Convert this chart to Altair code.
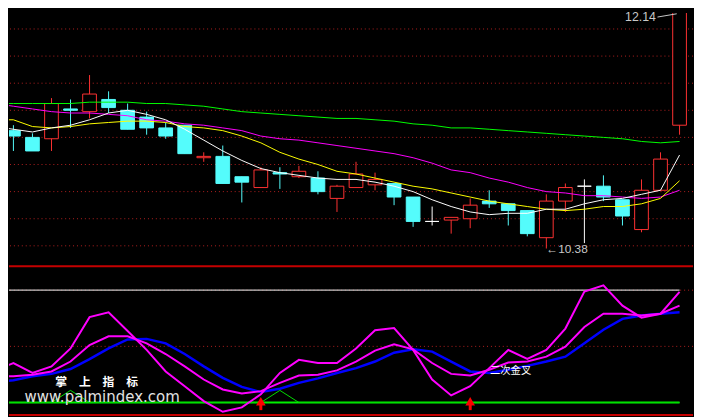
import altair as alt
import pandas as pd

# ---------------- price panel data (daily OHLC) ----------------
days = list(range(36))
opens = [11.25, 11.20, 11.19, 11.41, 11.39, 11.48, 11.40, 11.35, 11.27, 11.29,
         11.05, 11.06, 10.91, 10.83, 10.94, 10.91, 10.90, 10.75, 10.83, 10.85,
         10.86, 10.76, 10.58, 10.59, 10.60, 10.73, 10.71, 10.66, 10.46, 10.73,
         10.84, 10.84, 10.74, 10.52, 10.81, 11.29]
highs = [11.29, 11.23, 11.49, 11.48, 11.66, 11.54, 11.45, 11.39, 11.31, 11.29,
         11.09, 11.14, 10.91, 10.98, 10.98, 10.99, 10.95, 10.85, 11.02, 10.94,
         10.86, 10.76, 10.69, 10.61, 10.75, 10.81, 10.71, 10.66, 10.78, 10.86,
         10.89, 10.92, 10.74, 10.89, 11.09, 12.14]
lows = [11.10, 11.10, 11.10, 11.27, 11.34, 11.38, 11.26, 11.22, 11.19, 11.08,
        11.02, 10.86, 10.72, 10.83, 10.82, 10.90, 10.78, 10.65, 10.83, 10.81,
        10.70, 10.54, 10.55, 10.49, 10.53, 10.68, 10.55, 10.47, 10.38, 10.65,
        10.42, 10.73, 10.55, 10.50, 10.81, 11.22]
closes = [11.21, 11.10, 11.45, 11.40, 11.52, 11.42, 11.26, 11.27, 11.21, 11.08,
          11.06, 10.86, 10.87, 10.96, 10.93, 10.95, 10.80, 10.84, 10.93, 10.89,
          10.76, 10.58, 10.58, 10.61, 10.70, 10.71, 10.66, 10.49, 10.73, 10.83,
          10.84, 10.76, 10.62, 10.81, 11.04, 12.14]

# moving averages, day -1 .. 35
ma_days = list(range(-1, 36))
ma5 = [11.28, 11.26, 11.24, 11.27, 11.29, 11.33, 11.38, 11.40, 11.37, 11.33,
       11.26, 11.18, 11.10, 11.03, 10.97, 10.94, 10.92, 10.90, 10.89, 10.89,
       10.87, 10.84, 10.80, 10.74, 10.69, 10.65, 10.63, 10.64, 10.64, 10.67,
       10.67, 10.71, 10.74, 10.75, 10.78, 10.81, 11.07]
ma10 = [11.33, 11.33, 11.28, 11.27, 11.28, 11.30, 11.31, 11.32, 11.32, 11.31,
        11.28, 11.27, 11.25, 11.21, 11.16, 11.09, 11.04, 11.00, 10.95, 10.93,
        10.90, 10.87, 10.84, 10.82, 10.79, 10.76, 10.73, 10.71, 10.69, 10.67,
        10.66, 10.67, 10.69, 10.69, 10.71, 10.75, 10.88]
ma20 = [11.45, 11.43, 11.41, 11.39, 11.38, 11.38, 11.37, 11.36, 11.33, 11.32,
        11.30, 11.29, 11.27, 11.25, 11.21, 11.19, 11.18, 11.16, 11.14, 11.12,
        11.10, 11.08, 11.05, 11.01, 10.96, 10.94, 10.90, 10.87, 10.83, 10.80,
        10.79, 10.77, 10.77, 10.76, 10.75, 10.76, 10.81]
ma60 = [11.45, 11.45, 11.45, 11.45, 11.45, 11.46, 11.46, 11.46, 11.45, 11.45,
        11.44, 11.43, 11.41, 11.39, 11.38, 11.37, 11.36, 11.35, 11.34, 11.34,
        11.33, 11.32, 11.30, 11.29, 11.27, 11.27, 11.26, 11.25, 11.24, 11.23,
        11.22, 11.21, 11.20, 11.19, 11.17, 11.16, 11.17]
grid_prices = [10.4, 10.6, 10.8, 11.0, 11.2, 11.4, 11.6, 11.8, 12.0]

# ---------------- indicator panel data ----------------
fast = [36.9, 41.1, 35.8, 39.3, 48.9, 65.6, 68.2, 58.2, 48.1, 36.6,
        28.7, 20.8, 15.1, 17.4, 24.4, 35.8, 42.8, 41.1, 41.1, 48.9,
        58.6, 59.8, 48.1, 32.3, 23.8, 28.7, 38.4, 48.1, 43.3, 48.1,
        59.5, 79.3, 82.6, 71.7, 65.3, 67.4, 79.1]
slow = [34.0, 34.0, 34.9, 36.6, 41.9, 50.7, 55.4, 55.4, 51.6, 45.9,
        39.3, 32.3, 27.0, 24.9, 26.1, 30.5, 34.4, 34.9, 37.2, 41.9,
        47.7, 51.1, 48.4, 41.1, 35.3, 34.5, 37.5, 41.4, 41.9, 44.5,
        49.8, 60.3, 67.4, 67.4, 66.5, 67.4, 71.7]
blue_vals = [31.1, 31.9, 34.0, 35.3, 37.9, 43.2, 48.9, 53.7, 54.0, 51.6,
             45.9, 39.3, 33.2, 28.4, 25.6, 27.4, 30.5, 32.9, 35.8, 38.4,
             41.9, 46.6, 48.4, 47.2, 41.9, 36.6, 35.8, 37.5, 39.6, 41.9,
             44.5, 51.6, 58.9, 64.7, 66.5, 67.4, 68.2]
signal = [20, 20, 20, 20, 26.5, 20, 20, 20, 20, 20,
          20, 20, 20, 20, 20, 26.5, 20, 20, 20, 20,
          20, 20, 20, 20, 20, 20, 20, 20, 20, 20,
          20, 20, 20, 20, 20, 20, 20]
levels_white = [80]
levels_green = [20]
levels_dotted = [50, 80]
cross_days = [13, 24]
cross_label = "二次金叉"
wm_cn = "掌　上　指　标"
wm_url = "www.palmindex.com"

# ---------------- scales ----------------
W, H_TOP, H_BOT = 694, 256, 153
xs = alt.Scale(domain=[-0.233, 35.707], nice=False, zero=False)
ys_top = alt.Scale(domain=[10.2567, 12.1185], nice=False, zero=False)
ys_bot = alt.Scale(domain=[12.8, 93.3], nice=False, zero=False)

kinds = ["up", "down", "flat"]
stroke_sc = alt.Scale(domain=kinds, range=["#ff3232", "#54fcfc", "#ffffff"])
fill_sc = alt.Scale(domain=kinds, range=["#000000", "#54fcfc", "#ffffff"])

def XQ(f):
    return alt.X(f, type="quantitative", scale=xs, axis=None)

def YT(f):
    return alt.Y(f, type="quantitative", scale=ys_top, axis=None)

def YB(f):
    return alt.Y(f, type="quantitative", scale=ys_bot, axis=None)

# ---------------- top panel ----------------
candles = pd.DataFrame({"day": days, "open": opens, "high": highs,
                        "low": lows, "close": closes})
cbase = alt.Chart(candles).transform_calculate(
    kind="datum.close > datum.open ? 'up' : (datum.close < datum.open ? 'down' : 'flat')",
    lo="min(datum.open, datum.close)",
    hi="max(datum.open, datum.close)",
    x0="datum.day - 0.36",
    x1="datum.day + 0.36",
)
grid = alt.Chart(pd.DataFrame({"p": grid_prices})).mark_rule(
    color="#b42020", strokeWidth=1, strokeDash=[1, 3]
).encode(y=YT("p"))

wicks = cbase.mark_rule(strokeWidth=1, clip=True).encode(
    x=XQ("day"), y=YT("low"), y2="high",
    stroke=alt.Stroke("kind:N", scale=stroke_sc, legend=None),
)
bodies = cbase.mark_rect(strokeWidth=1, clip=True).encode(
    x=XQ("x0"), x2="x1", y=YT("lo"), y2="hi",
    fill=alt.Fill("kind:N", scale=fill_sc, legend=None),
    stroke=alt.Stroke("kind:N", scale=stroke_sc, legend=None),
)

ma_df = pd.DataFrame({"day": ma_days, "ma5": ma5, "ma10": ma10,
                      "ma20": ma20, "ma60": ma60})

def ma_line(field, color):
    return alt.Chart(ma_df).mark_line(color=color, strokeWidth=1, clip=True).encode(
        x=XQ("day"), y=YT(field))

hi_i = highs.index(max(highs))
lo_i = lows.index(min(lows))
ext = pd.DataFrame({"day": [days[hi_i]], "p": [max(highs)],
                    "t": [f"{max(highs):.2f}"]})
ext_lo = pd.DataFrame({"day": [days[lo_i]], "p": [min(lows)],
                       "t": ["\u2190" + f"{min(lows):.2f}"]})
hi_text = alt.Chart(ext).mark_text(
    align="right", baseline="alphabetic", dx=-24, dy=11,
    color="#c8c8c8", fontSize=12.5, font="Liberation Sans"
).encode(x=XQ("day"), y=YT("p"), text="t:N")
hi_arrow = alt.Chart(ext).transform_calculate(
    ax0="datum.day - 1.16", ax1="datum.day - 0.15",
    ay0="datum.p - 0.052", ay1="datum.p - 0.028",
).mark_rule(color="#c8c8c8", strokeWidth=1, clip=True).encode(
    x=XQ("ax0"), x2="ax1", y=YT("ay0"), y2="ay1")
lo_text = alt.Chart(ext_lo).mark_text(
    align="left", baseline="middle", dx=0, dy=1,
    color="#c8c8c8", fontSize=12, font="Liberation Sans"
).encode(x=XQ("day"), y=YT("p"), text="t:N")

top = alt.layer(
    grid, wicks, bodies,
    ma_line("ma60", "#00ff00"), ma_line("ma20", "#ff00ff"),
    ma_line("ma10", "#ffff00"), ma_line("ma5", "#ffffff"),
    hi_arrow, hi_text, lo_text,
).properties(width=W, height=H_TOP)

# ---------------- bottom panel ----------------
ind = pd.DataFrame({"day": ma_days, "fast": fast, "slow": slow,
                    "blue": blue_vals, "sig": signal})
frame_top = alt.Chart(ind.head(1)).mark_rule(color="#c40000", strokeWidth=2).encode(
    y=alt.value(1))
frame_bot = alt.Chart(ind.head(1)).mark_rule(color="#c40000", strokeWidth=2).encode(
    y=alt.value(152))
dotted = alt.Chart(pd.DataFrame({"v": levels_dotted})).mark_rule(
    color="#b42020", strokeWidth=1, strokeDash=[1, 3]).encode(y=YB("v"))
lvl_w = alt.Chart(pd.DataFrame({"v": levels_white, "a": [ma_days[0]], "b": [ma_days[-1]]})).mark_rule(
    color="#c8c8c8", strokeWidth=1.3, clip=True).encode(x=XQ("a"), x2="b", y=YB("v"))
lvl_g = alt.Chart(pd.DataFrame({"v": levels_green, "a": [ma_days[0]], "b": [ma_days[-1]]})).mark_rule(
    color="#00f000", strokeWidth=2, clip=True).encode(x=XQ("a"), x2="b", y=YB("v"))
sig_line = alt.Chart(ind).mark_line(color="#00e000", strokeWidth=1, clip=True).encode(
    x=XQ("day"), y=YB("sig"))

def ind_line(field, color, w):
    return alt.Chart(ind).mark_line(color=color, strokeWidth=w, clip=True).encode(
        x=XQ("day"), y=YB(field))

arrows_df = pd.DataFrame({"day": cross_days})
arrow_head = alt.Chart(arrows_df).mark_point(
    shape="triangle-up", filled=True, color="#ff0000", size=95, opacity=1
).encode(x=XQ("day"), y=alt.value(138))
arrow_shaft = alt.Chart(arrows_df).mark_rule(color="#ff0000", strokeWidth=3).encode(
    x=XQ("day"), y=alt.value(139), y2=alt.value(147))

lab_df = pd.DataFrame({"day": [cross_days[1]],
                       "v": [blue_vals[ma_days.index(cross_days[1])]],
                       "t": [cross_label]})
cross_text = alt.Chart(lab_df).mark_text(
    align="left", baseline="middle", dx=20, color="#ffffff",
    fontSize=10.5, font="Noto Sans CJK SC"
).encode(x=XQ("day"), y=YB("v"), text="t:N")

wm1 = alt.Chart(pd.DataFrame({"t": [wm_cn]})).mark_text(
    align="center", baseline="middle", color="#ffffff", fontSize=12,
    fontWeight="bold", font="Noto Sans CJK SC"
).encode(x=alt.value(89), y=alt.value(119), text="t:N")
wm2 = alt.Chart(pd.DataFrame({"t": [wm_url]})).mark_text(
    align="center", baseline="alphabetic", color="#e2e2e2", fontSize=15.2,
    font="DejaVu Sans"
).encode(x=alt.value(94.5), y=alt.value(139), text="t:N")

bottom = alt.layer(
    dotted, lvl_w, lvl_g, sig_line,
    ind_line("blue", "#0000ff", 2.5),
    ind_line("slow", "#ff00ff", 2),
    ind_line("fast", "#ff00ff", 2),
    wm1, wm2, arrow_shaft, arrow_head, cross_text,
    frame_top, frame_bot,
).properties(width=W, height=H_BOT)

chart = alt.vconcat(top, bottom, spacing=0).properties(
    padding=0, background="#000000"
).configure_view(stroke=None)

chart.save("out.html", embed_options={"renderer": "svg", "actions": False})
